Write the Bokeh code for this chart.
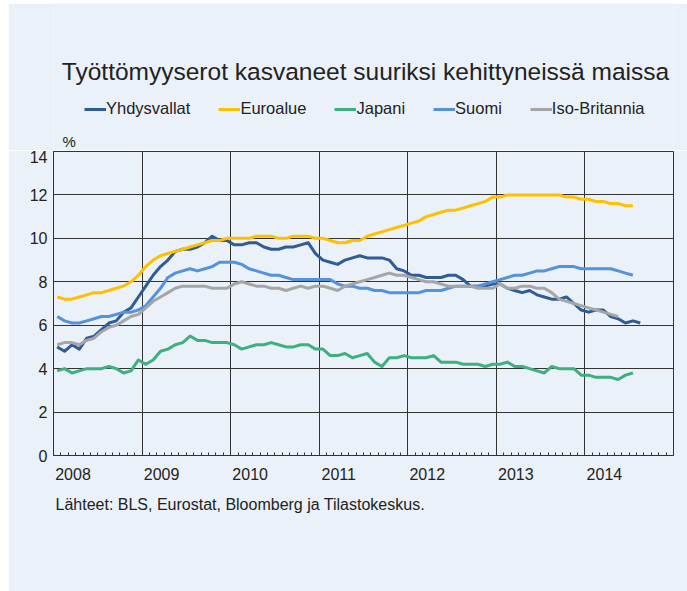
from bokeh.plotting import figure
from bokeh.models import (FixedTicker, CustomJSTickFormatter, Range1d, Title, Label,
                          Legend, LegendItem, ColumnDataSource, Spacer)
from bokeh.layouts import row, column
from bokeh.embed import file_html
from bokeh.resources import INLINE

# ---- data (monthly, starting January 2008) ----
start_year = 2008
years = [2008, 2009, 2010, 2011, 2012, 2013, 2014]
y_ticks = [0, 2, 4, 6, 8, 10, 12, 14]

series_names = ["Yhdysvallat", "Euroalue", "Japani", "Suomi", "Iso-Britannia"]

yhdysvallat = [5.0, 4.8, 5.1, 4.9, 5.4, 5.5, 5.8, 6.1, 6.2, 6.6, 6.8, 7.3,
               7.8, 8.3, 8.7, 9.0, 9.4, 9.5, 9.5, 9.6, 9.8, 10.1, 9.9, 9.9,
               9.7, 9.7, 9.8, 9.8, 9.6, 9.5, 9.5, 9.6, 9.6, 9.7, 9.8, 9.3,
               9.0, 8.9, 8.8, 9.0, 9.1, 9.2, 9.1, 9.1, 9.1, 9.0, 8.6, 8.5,
               8.3, 8.3, 8.2, 8.2, 8.2, 8.3, 8.3, 8.1, 7.8, 7.8, 7.8, 7.9,
               7.9, 7.7, 7.6, 7.5, 7.6, 7.4, 7.3, 7.2, 7.2, 7.3, 7.0, 6.7,
               6.6, 6.7, 6.7, 6.4, 6.3, 6.1, 6.2, 6.1]

euroalue = [7.3, 7.2, 7.2, 7.3, 7.4, 7.5, 7.5, 7.6, 7.7, 7.8, 8.0, 8.3,
            8.7, 9.0, 9.2, 9.3, 9.4, 9.5, 9.6, 9.7, 9.8, 9.9, 9.9, 10.0,
            10.0, 10.0, 10.0, 10.1, 10.1, 10.1, 10.0, 10.0, 10.1, 10.1, 10.1, 10.0,
            10.0, 9.9, 9.8, 9.8, 9.9, 9.9, 10.1, 10.2, 10.3, 10.4, 10.5, 10.6,
            10.7, 10.8, 11.0, 11.1, 11.2, 11.3, 11.3, 11.4, 11.5, 11.6, 11.7, 11.9,
            11.9, 12.0, 12.0, 12.0, 12.0, 12.0, 12.0, 12.0, 12.0, 11.9, 11.9, 11.8,
            11.8, 11.7, 11.7, 11.6, 11.6, 11.5, 11.5]

japani = [3.9, 4.0, 3.8, 3.9, 4.0, 4.0, 4.0, 4.1, 4.0, 3.8, 3.9, 4.4,
          4.2, 4.4, 4.8, 4.9, 5.1, 5.2, 5.5, 5.3, 5.3, 5.2, 5.2, 5.2,
          5.1, 4.9, 5.0, 5.1, 5.1, 5.2, 5.1, 5.0, 5.0, 5.1, 5.1, 4.9,
          4.9, 4.6, 4.6, 4.7, 4.5, 4.6, 4.7, 4.3, 4.1, 4.5, 4.5, 4.6,
          4.5, 4.5, 4.5, 4.6, 4.3, 4.3, 4.3, 4.2, 4.2, 4.2, 4.1, 4.2,
          4.2, 4.3, 4.1, 4.1, 4.0, 3.9, 3.8, 4.1, 4.0, 4.0, 4.0, 3.7,
          3.7, 3.6, 3.6, 3.6, 3.5, 3.7, 3.8]

suomi = [6.4, 6.2, 6.1, 6.1, 6.2, 6.3, 6.4, 6.4, 6.5, 6.6, 6.6, 6.7,
         6.9, 7.3, 7.7, 8.2, 8.4, 8.5, 8.6, 8.5, 8.6, 8.7, 8.9, 8.9,
         8.9, 8.8, 8.6, 8.5, 8.4, 8.3, 8.3, 8.2, 8.1, 8.1, 8.1, 8.1,
         8.1, 8.1, 7.9, 7.8, 7.8, 7.7, 7.7, 7.6, 7.6, 7.5, 7.5, 7.5,
         7.5, 7.5, 7.6, 7.6, 7.6, 7.7, 7.8, 7.8, 7.8, 7.8, 7.9, 8.0,
         8.1, 8.2, 8.3, 8.3, 8.4, 8.5, 8.5, 8.6, 8.7, 8.7, 8.7, 8.6,
         8.6, 8.6, 8.6, 8.6, 8.5, 8.4, 8.3]

iso_britannia = [5.1, 5.2, 5.2, 5.1, 5.3, 5.4, 5.7, 5.9, 6.0, 6.2, 6.4, 6.5,
                 6.8, 7.1, 7.3, 7.5, 7.7, 7.8, 7.8, 7.8, 7.8, 7.7, 7.7, 7.7,
                 7.9, 8.0, 7.9, 7.8, 7.8, 7.7, 7.7, 7.6, 7.7, 7.8, 7.7, 7.8,
                 7.8, 7.7, 7.6, 7.8, 7.9, 8.0, 8.1, 8.2, 8.3, 8.4, 8.3, 8.3,
                 8.2, 8.1, 8.0, 8.0, 7.9, 7.8, 7.8, 7.8, 7.8, 7.7, 7.7, 7.7,
                 7.9, 7.7, 7.7, 7.8, 7.8, 7.7, 7.7, 7.5, 7.2, 7.1, 7.0, 6.9,
                 6.8, 6.7, 6.6, 6.5, 6.4]

colors = ["#2F5C96", "#FFC000", "#3DB07E", "#5592DC", "#A6A6A6"]

title_text = "Työttömyyserot kasvaneet suuriksi kehittyneissä maissa"
unit_text = "%"
source_text = "Lähteet: BLS, Eurostat, Bloomberg ja Tilastokeskus."

BG = "#EAF1F8"
GRID = "#333333"
TXT = "#222222"
FONT = "Liberation Sans"
HEAD_H = 147
FRAME_W = 620
LEFT = 45
RIGHT = 14

def month_x(n):
    return [start_year + (i + 0.5) / 12 for i in range(n)]

# ---------- header: title, legend, unit (frame aligned with main chart) ----------
h = figure(frame_width=FRAME_W, frame_height=HEAD_H, output_backend="svg",
           toolbar_location=None,
           x_range=Range1d(LEFT, LEFT + FRAME_W), y_range=Range1d(0, HEAD_H),
           x_axis_type=None, y_axis_type=None,
           min_border_left=LEFT, min_border_right=RIGHT, min_border_top=0,
           min_border_bottom=0)
h.background_fill_color = BG
h.border_fill_color = BG
h.outline_line_color = None
h.grid.visible = False

h.add_layout(Label(x=357, y=79, text=title_text, text_align="center",
                   text_baseline="middle", text_font=FONT, text_font_size="24.5px",
                   text_color=TXT))
h.add_layout(Label(x=54, y=9, text=unit_text, text_align="left",
                   text_baseline="middle", text_font=FONT, text_font_size="15px",
                   text_color=TXT))

# legend swatches (placeholders kept outside the visible range)
dummy = []
for name, col in zip(series_names, colors):
    r = h.line(x=[-100, -90], y=[-100, -100], line_color=col, line_width=3)
    dummy.append((name, r))

legend = Legend(items=[LegendItem(label=n, renderers=[r]) for n, r in dummy],
                orientation="horizontal", location=(31, 32),
                background_fill_alpha=0, border_line_alpha=0,
                padding=0, margin=0, spacing=28, label_standoff=0,
                glyph_width=22, glyph_height=16, label_height=16,
                label_text_font=FONT, label_text_font_size="16.5px",
                label_text_color=TXT)
h.add_layout(legend, "center")

# ---------- main chart ----------
p = figure(frame_width=FRAME_W, frame_height=304, output_backend="svg",
           toolbar_location=None, x_range=Range1d(2008, 2015),
           y_range=Range1d(0, 14),
           min_border_left=LEFT, min_border_right=RIGHT,
           min_border_top=1, min_border_bottom=136)
p.background_fill_color = BG
p.border_fill_color = BG
p.outline_line_color = GRID
p.outline_line_width = 1

for name, data, col in zip(series_names,
                           [yhdysvallat, euroalue, japani, suomi, iso_britannia],
                           colors):
    src = ColumnDataSource(dict(x=month_x(len(data)), y=data))
    p.line("x", "y", source=src, line_color=col, line_width=3, line_join="round")

# x axis
month_ticks = [start_year + k / 12 for k in range(0, 7 * 12 + 1)]
p.xaxis.ticker = FixedTicker(ticks=[y + 0.22 for y in years], minor_ticks=month_ticks)
p.xaxis.formatter = CustomJSTickFormatter(code="return Math.floor(tick).toString();")
p.xaxis.major_tick_line_color = None
p.xaxis.major_tick_out = 0
p.xaxis.major_tick_in = 0
p.xaxis.minor_tick_in = 3
p.xaxis.minor_tick_out = 0
p.xaxis.minor_tick_line_color = GRID
p.xaxis.axis_line_color = GRID
p.xaxis.major_label_standoff = 12
p.xaxis.major_label_text_font = FONT
p.xaxis.major_label_text_font_size = "16px"
p.xaxis.major_label_text_color = TXT
p.xgrid.ticker = FixedTicker(ticks=years + [2015])
p.xgrid.grid_line_color = GRID
p.xgrid.grid_line_width = 1

# y axis
p.yaxis.ticker = FixedTicker(ticks=y_ticks)
p.yaxis.major_tick_line_color = None
p.yaxis.major_tick_out = 0
p.yaxis.major_tick_in = 0
p.yaxis.minor_tick_line_color = None
p.yaxis.axis_line_color = GRID
p.yaxis.major_label_standoff = 6
p.yaxis.major_label_text_font = FONT
p.yaxis.major_label_text_font_size = "16px"
p.yaxis.major_label_text_color = TXT
p.ygrid.ticker = FixedTicker(ticks=y_ticks)
p.ygrid.grid_line_color = GRID
p.ygrid.grid_line_width = 1

p.add_layout(Title(text=source_text, align="left", offset=2, standoff=23,
                   text_font=FONT, text_font_size="16px",
                   text_font_style="normal", text_color=TXT), "below")

layout = row(Spacer(width=8), column(Spacer(height=3), h, p))
open("out.html", "w").write(file_html(layout, INLINE))
